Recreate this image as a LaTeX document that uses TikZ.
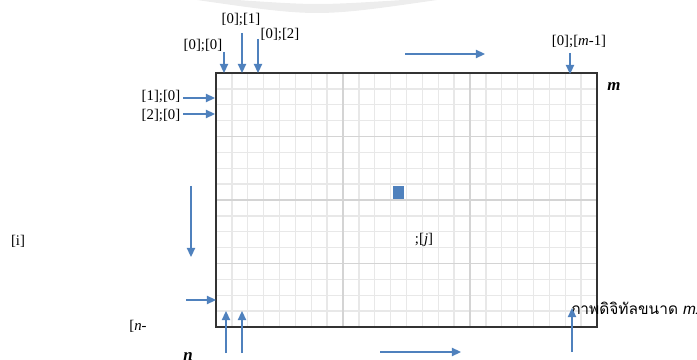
\documentclass[tikz,border=0pt]{standalone}
\usepackage{fontspec}
\setmainfont{Liberation Serif}
\newfontfamily\thaifont[Script=Thai]{Loma}
\newfontfamily\labsans{Liberation Sans}
\usetikzlibrary{arrows.meta,positioning}
\definecolor{pixBlue}{RGB}{79,129,189}
\definecolor{cellLight}{gray}{0.91}
\definecolor{cellDark}{gray}{0.83}
\definecolor{markGrey}{gray}{0.93}
\tikzset{
  idx/.style={inner sep=0pt, font=\fontsize{10.5}{12}\selectfont},
  dimlabel/.style={inner sep=0pt, font=\fontsize{12}{14}\selectfont\bfseries\itshape},
  scan/.style={-{Triangle[length=2.3mm,width=2.1mm]}, line width=0.35mm, draw=pixBlue},
  cellline/.style={draw=cellLight, line width=0.35mm},
  cellmajor/.style={draw=cellDark, line width=0.35mm},
  frame/.style={draw=black!80, line width=0.4mm}
}

\begin{document}
\begin{tikzpicture}[x=0.025cm,y=-0.025cm]
  \useasboundingbox (0,0) rectangle (697,360);
  % faint mark at the top
  \fill[markGrey] (197,0) .. controls (317,17.3) .. (437,0) -- (403,0)
    .. controls (317,5.3) .. (237,0) -- cycle;

  % image grid, 24 x 16 cells
  \coordinate (nw) at (216,73);
  \coordinate (se) at (597,327);
  \foreach \c in {1,...,23}{
    \pgfmathsetmacro{\gx}{216+\c*15.875}
    \draw[cellline] (\gx,73) -- (\gx,327);
  }
  \foreach \r in {1,...,15}{
    \pgfmathsetmacro{\gy}{73+\r*15.875}
    \draw[cellline] (216,\gy) -- (597,\gy);
  }
  \foreach \c in {8,16}{
    \pgfmathsetmacro{\gx}{216+\c*15.875}
    \draw[cellmajor] (\gx,73) -- (\gx,327);
  }
  \foreach \r in {4,8,12}{
    \pgfmathsetmacro{\gy}{73+\r*15.875}
    \draw[cellmajor] (216,\gy) -- (597,\gy);
  }
  \draw[frame] (nw) rectangle (se);
  \fill[pixBlue] (393,186) rectangle (404,199);

  % index labels
  \node[idx] (l00) at (203,46) {[0];[0]};
  \node[idx] (l01) at (241,20) {[0];[1]};
  \node[idx] (l02) at (280,35) {[0];[2]};
  \node[idx] (l0m) at (579,42) {[0];[\textit{m}-1]};
  \node[idx] (l10) at (161,97) {[1];[0]};
  \node[idx] (l20) at (161,116) {[2];[0]};
  \node[idx] (li) at (18,241) {[i]};
  \node[idx] (lj) at (424,240) {;[\textit{j}]};
  \node[idx] (ln1) at (138,326) {[\textit{n}-};
  \node[dimlabel] (lm) at (614,87) {m};
  \node[dimlabel] (ln) at (188,357) {n};
  \node[inner sep=0pt, anchor=west, font=\fontsize{11}{13}\selectfont] (cap) at (570,308)
    {\thaifont ภาพดิจิทัลขนาด \labsans\itshape mxn};

  % scan arrows
  \coordinate (a0s) at (224,52);  \coordinate (a0e) at (224,73);
  \coordinate (a1s) at (242,33);  \coordinate (a1e) at (242,73);
  \coordinate (a2s) at (258,39);  \coordinate (a2e) at (258,73);
  \coordinate (ams) at (570,53);  \coordinate (ame) at (570,74);
  \coordinate (b1s) at (183,98);  \coordinate (b1e) at (215,98);
  \coordinate (b2s) at (183,114); \coordinate (b2e) at (215,114);
  \coordinate (bns) at (186,300); \coordinate (bne) at (216,300);
  \coordinate (rts) at (405,54);  \coordinate (rte) at (485,54);
  \coordinate (rbs) at (380,352); \coordinate (rbe) at (461,352);
  \coordinate (dws) at (191,186); \coordinate (dwe) at (191,257);
  \coordinate (u0s) at (226,353); \coordinate (u0e) at (226,311);
  \coordinate (u1s) at (242,353); \coordinate (u1e) at (242,311);
  \coordinate (ums) at (572,352); \coordinate (ume) at (572,308);
  \foreach \s/\e in {a0s/a0e,a1s/a1e,a2s/a2e,ams/ame,b1s/b1e,b2s/b2e,bns/bne,
                     rts/rte,rbs/rbe,dws/dwe,u0s/u0e,u1s/u1e,ums/ume}
    \draw[scan] (\s) -- (\e);
\end{tikzpicture}
\end{document}
